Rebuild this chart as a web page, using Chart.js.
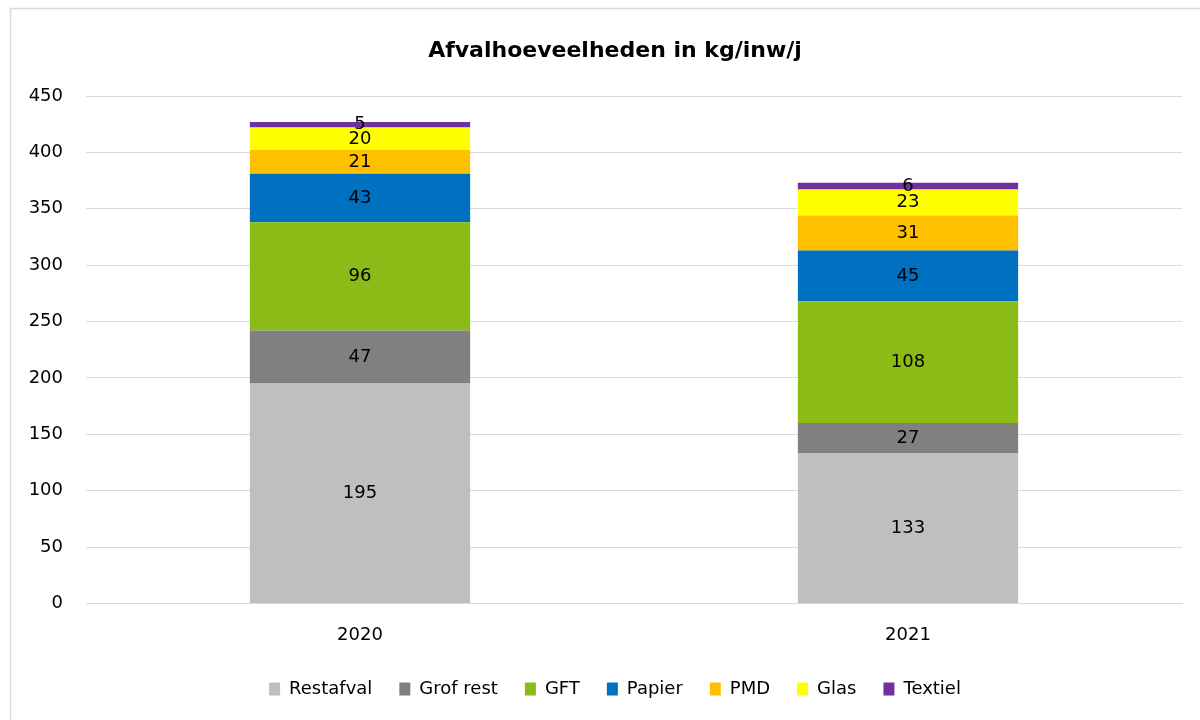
<!DOCTYPE html>
<html>
<head>
<meta charset="utf-8">
<script src="https://cdn.jsdelivr.net/npm/chart.js@4"></script>
<style>
html,body{margin:0;padding:0;background:#fff;}
#wrap{width:1200px;height:720px;position:relative;}
</style>
</head>
<body>
<div id="wrap"><canvas id="c" width="1200" height="720"></canvas></div>
<script>
const categories = ["2020", "2021"];
const restafval = [195, 133];
const grofRest = [47, 27];
const gft = [96, 108];
const papier = [43, 45];
const pmd = [21, 31];
const glas = [20, 23];
const textiel = [5, 6];
const yTicks = [0, 50, 100, 150, 200, 250, 300, 350, 400, 450];
const chartTitle = "Afvalhoeveelheden in kg/inw/j";

const FONT = "'DejaVu Sans', sans-serif";

const series = [
  {label: "Restafval", data: restafval, color: "#BFBFBF"},
  {label: "Grof rest", data: grofRest, color: "#808080"},
  {label: "GFT", data: gft, color: "#8CBA17"},
  {label: "Papier", data: papier, color: "#0070C0"},
  {label: "PMD", data: pmd, color: "#FFC000"},
  {label: "Glas", data: glas, color: "#FFFF00"},
  {label: "Textiel", data: textiel, color: "#7030A0"}
];

const frame = {
  id: "frame",
  beforeDraw(chart) {
    const ctx = chart.ctx;
    ctx.save();
    ctx.fillStyle = "#fff";
    ctx.fillRect(0, 0, chart.width, chart.height);
    ctx.strokeStyle = "#D9D9D9";
    ctx.lineWidth = 1.5;
    ctx.strokeRect(10.5, 8.5, 1250, 800);
    ctx.font = "bold 22px " + FONT;
    ctx.fillStyle = "#000";
    ctx.textAlign = "center";
    ctx.textBaseline = "alphabetic";
    ctx.fillText(chartTitle, 615, 57);
    ctx.restore();
    const lg = chart.legend;
    if (lg && !lg._shifted) {
      lg.left += 24;
      lg.right += 24;
      lg.top -= 14;
      lg.bottom -= 14;
      lg._shifted = true;
    }
  }
};

const labels = {
  id: "segLabels",
  afterDatasetsDraw(chart) {
    const ctx = chart.ctx;
    ctx.save();
    ctx.font = "18px " + FONT;
    ctx.fillStyle = "#000";
    ctx.textAlign = "center";
    ctx.textBaseline = "middle";
    chart.data.datasets.forEach((ds, i) => {
      const meta = chart.getDatasetMeta(i);
      meta.data.forEach((bar, j) => {
        const v = ds.data[j];
        const y = (bar.y + bar.base) / 2;
        ctx.fillText(String(v), bar.x, y);
      });
    });
    ctx.restore();
  }
};

new Chart(document.getElementById("c"), {
  type: "bar",
  data: {
    labels: categories,
    datasets: series.map(s => ({
      label: s.label,
      data: s.data,
      backgroundColor: s.color,
      borderWidth: 0,
      categoryPercentage: 1,
      barPercentage: 0.402
    }))
  },
  options: {
    responsive: false,
    animation: false,
    devicePixelRatio: 1,
    layout: {padding: {left: 0, right: 18, top: 96, bottom: -2}},
    plugins: {
      title: {display: false},
      legend: {
        position: "bottom",
        labels: {
          color: "#000",
          font: {family: FONT, size: 18},
          boxWidth: 11,
          boxHeight: 13,
          padding: 27
        }
      },
      tooltip: {enabled: false}
    },
    scales: {
      x: {
        stacked: true,
        grid: {display: false, drawTicks: false},
        border: {display: true, color: "#D9D9D9", width: 1},
        ticks: {color: "#000", font: {family: FONT, size: 18}, padding: 21}
      },
      y: {
        stacked: true,
        min: 0,
        max: 450,
        afterBuildTicks(scale) { scale.ticks = yTicks.map(v => ({value: v})); },
        afterFit(scale) { scale.width = 86; },
        grid: {color: "#D9D9D9", lineWidth: 1, drawTicks: false},
        border: {display: false},
        ticks: {color: "#000", font: {family: FONT, size: 18}, padding: 23}
      }
    }
  },
  plugins: [frame, labels]
});
</script>
</body>
</html>
